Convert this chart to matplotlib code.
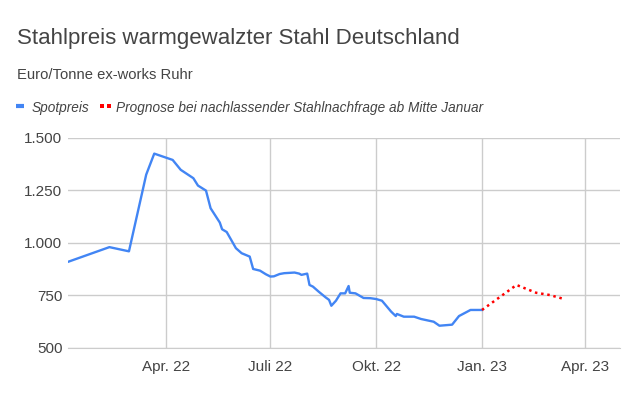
import matplotlib.pyplot as plt
from matplotlib.lines import Line2D
import pandas as pd

spot_dates = ["2022-01-06", "2022-02-11", "2022-02-28", "2022-03-15", "2022-03-22",
              "2022-04-07", "2022-04-14", "2022-04-25", "2022-04-29", "2022-05-06",
              "2022-05-10", "2022-05-18", "2022-05-20", "2022-05-24", "2022-06-01",
              "2022-06-06", "2022-06-13", "2022-06-16", "2022-06-22", "2022-06-27",
              "2022-07-01", "2022-07-04", "2022-07-09", "2022-07-13", "2022-07-22",
              "2022-07-26", "2022-07-28", "2022-08-02", "2022-08-04", "2022-08-07",
              "2022-08-12", "2022-08-18", "2022-08-21", "2022-08-23", "2022-08-27",
              "2022-08-31", "2022-09-04", "2022-09-07", "2022-09-08", "2022-09-13",
              "2022-09-20", "2022-09-26", "2022-10-01", "2022-10-06", "2022-10-14",
              "2022-10-18", "2022-10-19", "2022-10-25", "2022-11-03", "2022-11-09",
              "2022-11-20", "2022-11-25", "2022-12-06", "2022-12-12", "2022-12-22",
              "2023-01-01"]
spot_values = [910, 980, 960, 1325, 1425,
               1395, 1348, 1308, 1273, 1249,
               1165, 1097, 1065, 1052, 975,
               951, 935, 876, 868, 851,
               840, 841, 852, 856, 859,
               854, 848, 854, 800, 792,
               768, 741, 729, 701, 725,
               760, 760, 795, 763, 760,
               738, 737, 733, 725, 673,
               652, 662, 649, 649, 638,
               625, 606, 611, 652, 681,
               681]

forecast_dates = ["2023-01-01", "2023-01-31", "2023-02-17", "2023-03-01", "2023-03-14"]
forecast_values = [681, 800, 763, 752, 732]

tick_dates = ["2022-04-01", "2022-07-01", "2022-10-01", "2023-01-01", "2023-04-01"]
tick_labels = ["Apr. 22", "Juli 22", "Okt. 22", "Jan. 23", "Apr. 23"]
y_ticks = [500, 750, 1000, 1250, 1500]
y_labels = ["500", "750", "1.000", "1.250", "1.500"]

plt.rcParams["font.family"] = ["Liberation Sans", "DejaVu Sans"]
txt = "#444444"
blue = "#4285F4"
red = "#FF0000"

fig = plt.figure(figsize=(6.4, 3.95), dpi=100)
ax = fig.add_axes([0.10625, 0.119, 0.8625, 0.532])

ax.plot(pd.to_datetime(spot_dates), spot_values, color=blue, linewidth=1.7, zorder=3)
ax.plot(pd.to_datetime(forecast_dates), forecast_values, color=red, linewidth=1.8,
        linestyle=(0, (1, 1.5)), zorder=3)

ax.set_xlim(pd.Timestamp("2022-01-06"), pd.Timestamp("2023-05-01"))
ax.set_ylim(500, 1500)
ax.set_xticks(pd.to_datetime(tick_dates))
ax.set_xticklabels(tick_labels)
ax.set_yticks(y_ticks)
ax.set_yticklabels(y_labels)
ax.grid(True, color="#cccccc", linewidth=1)
ax.set_axisbelow(True)
for s in ["top", "right", "left"]:
    ax.spines[s].set_visible(False)
ax.spines["bottom"].set_color("#cccccc")
ax.tick_params(length=0, labelsize=11, colors=txt)
ax.tick_params(axis="x", pad=9)
ax.tick_params(axis="y", pad=4)

# title, subtitle
fig.text(0.027, 0.888, "Stahlpreis warmgewalzter Stahl Deutschland", fontsize=16,
         color=txt, va="baseline")
fig.text(0.027, 0.800, "Euro/Tonne ex-works Ruhr", fontsize=10.6, color=txt,
         va="baseline")

# legend
ly = 1 - 106 / 395
fig.add_artist(Line2D([16 / 640, 24 / 640], [ly, ly], transform=fig.transFigure,
                      color=blue, linewidth=3, solid_capstyle="butt"))
fig.add_artist(Line2D([102 / 640, 108.5 / 640], [ly, ly], transform=fig.transFigure,
                      color=red, linestyle="none", marker="s", markersize=2.2,
                      markeredgewidth=0))
fig.text(32 / 640, 0.7157, "Spotpreis", fontsize=9.8, style="italic", color=txt,
         va="baseline")
fig.text(116 / 640, 0.7157, "Prognose bei nachlassender Stahlnachfrage ab Mitte Januar",
         fontsize=9.8, style="italic", color=txt, va="baseline")

fig.savefig("out.png", dpi=100)
